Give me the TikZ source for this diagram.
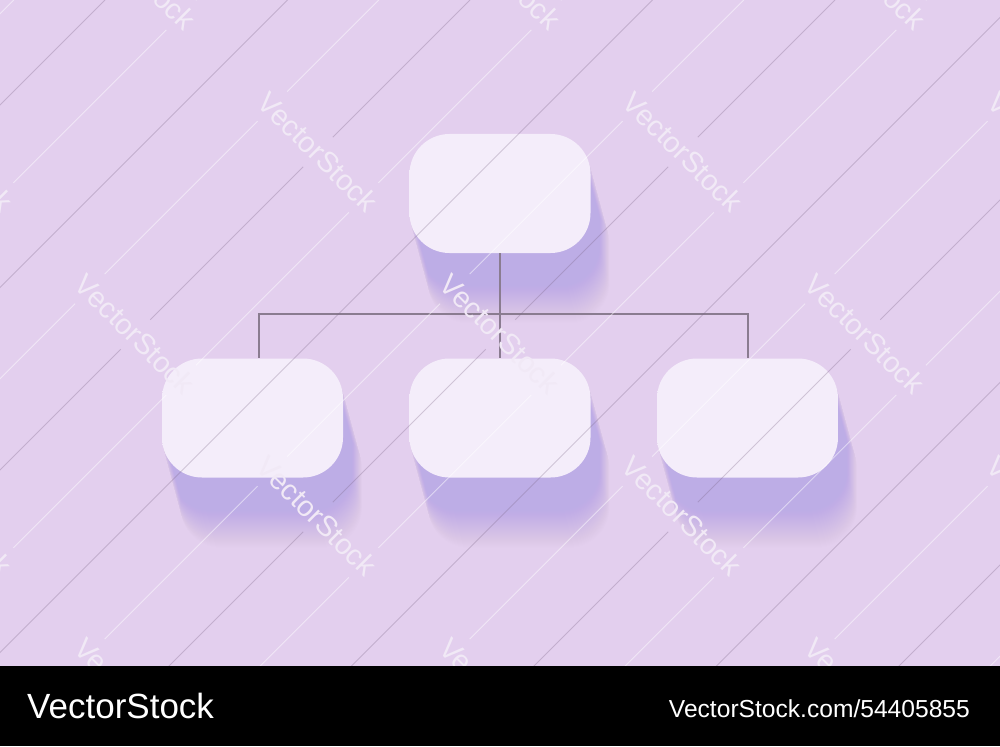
\documentclass[tikz,border=0pt]{standalone}
\usepackage{fontspec}
\setmainfont{Liberation Sans}
\usetikzlibrary{calc}
\definecolor{bgcolor}{HTML}{E3CFEE}
\definecolor{boxface}{HTML}{F4EDFA}
\definecolor{rimmid}{HTML}{EAD7F2}
\definecolor{rimdark}{HTML}{D9BEE7}
\definecolor{boxshadow}{HTML}{BDADE6}
\definecolor{linkgray}{HTML}{8A7C90}
\definecolor{wmdark}{HTML}{7A6585}
\definecolor{wmtext}{HTML}{F1E9F6}
\pgfdeclareverticalshading{boxrim}{100bp}{color(0bp)=(rimdark); color(6bp)=(rimmid); color(15bp)=(boxface); color(100bp)=(boxface)}
\tikzstyle{orgbox} = [shade, shading=boxrim, rounded corners=40pt, minimum width=181pt, minimum height=119pt, inner sep=0pt]
\tikzstyle{boxshade} = [fill=boxshadow, fill opacity=0.01, rounded corners=40pt]
\tikzstyle{link} = [linkgray, line width=2pt]
\tikzstyle{wmline} = [wmdark, opacity=0.3, line width=0.8pt]
\tikzstyle{wmlight} = [white, opacity=0.5, line width=0.8pt]
\tikzstyle{wmark} = [text=wmtext, font=\fontsize{29}{30}\selectfont, rotate=-45, inner sep=0pt]
\tikzstyle{bartext} = [text=white, inner sep=0pt]

\begin{document}
\begin{tikzpicture}[x=1pt,y=-1pt]
        \useasboundingbox (0,0) rectangle (1000,746);
        \fill[bgcolor] (0,0) rectangle (1000,746);
        %shadows
        \foreach \cx/\cy in {500/193.5, 252.5/418, 500/418, 747.5/418} {
            \foreach \i in {1,...,70} {
                \fill[boxshade] (\cx-90.5+\i*0.27,\cy-59.5+\i) rectangle ++(181,119);
            }
        }
        %boxes
        \node[orgbox] (chief) at (500,193.5) {};
        \node[orgbox] (left) at (252.5,418) {};
        \node[orgbox] (mid) at (500,418) {};
        \node[orgbox] (right) at (747.5,418) {};
        %connectors
        \coordinate (bus) at ($(chief.south)+(0,61)$);
        \draw[link] (chief.south) -- (bus);
        \draw[link] (bus) -| ([xshift=6pt]left.north);
        \draw[link] (bus) -- (mid.north);
        \draw[link] (bus) -| (right.north);
        %watermark lines
        \begin{scope}[even odd rule]
            \clip (0,0) rectangle (1000,666)
                \foreach \i in {-1,...,3} { \foreach \j in {-1,...,3} {
                    ($(318+365*\i-183*\j,152+182*\j)+(45:80)+(-45:21)$) -- ++(225:160) -- ++(135:42) -- ++(45:160) -- cycle
                } };
            \foreach \k in {-2,...,6} { \draw[wmline] (470+182.5*\k,0) -- ++(-700,700); }
            \foreach \k in {-3,...,6} { \draw[wmlight] (561.25+182.5*\k,0) -- ++(-700,700); }
        \end{scope}
        %watermark text
        \begin{scope}
            \clip (0,0) rectangle (1000,666);
            \foreach \wx/\wy [count=\n] in {136/-30, 501/-30, 866/-30, -47/152, 318/152, 683/152, 1048/152,
                    135/334, 500/334, 865/334, -48/516, 317/516, 682/516, 1047/516} {
                \node[wmark] (wm\n) at (\wx,\wy) {VectorStock};
            }
            \foreach \wx [count=\n] in {134, 499, 864} {
                \node[wmark, anchor=west] (wmb\n) at (\wx-55,643) {Ve};
            }
        \end{scope}
        %bottom bar
        \fill[black] (0,666) rectangle (1000,746);
        \node[bartext, anchor=base west, font=\fontsize{35}{40}\selectfont] (brand) at (27,718) {VectorStock};
        \node[bartext, anchor=base east, font=\fontsize{24.6}{28}\selectfont] (stockid) at (970,717) {VectorStock.com/54405855};
\end{tikzpicture}
\end{document}
